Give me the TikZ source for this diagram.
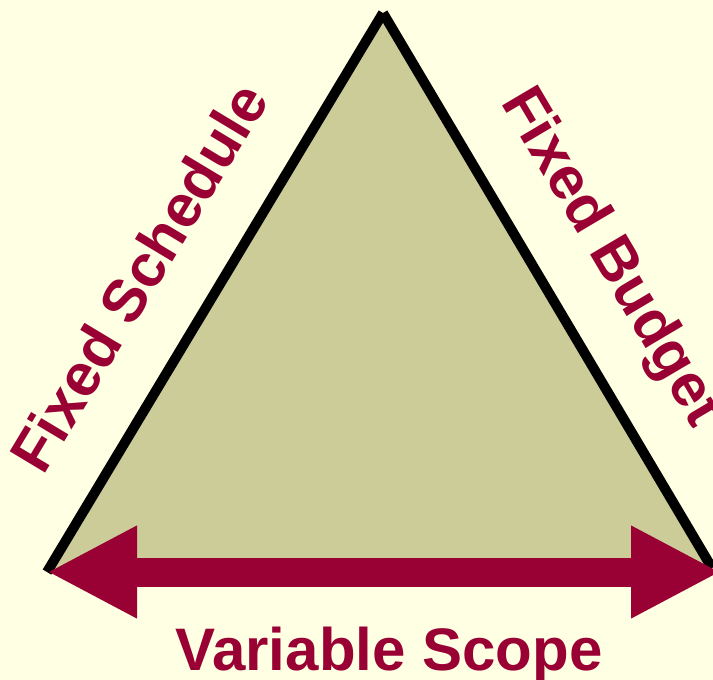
\documentclass[tikz,border=0pt]{standalone}
\usepackage{fontspec}
\setmainfont{Liberation Sans}
\usetikzlibrary{arrows.meta, calc}
\definecolor{paper}{HTML}{FFFFE3}
\definecolor{khaki}{HTML}{CCCC99}
\definecolor{wine}{HTML}{990033}

\begin{document}
\begin{tikzpicture}[x=1pt, y=-1pt,
    side/.style={draw=black, line width=10pt},
    sidetext/.style={text=wine, anchor=base, font=\bfseries\fontsize{60}{72}\selectfont},
    scopetip/.style={Triangle[length=90pt, width=86pt]}]
  \def \gap {52pt} % distance of the side labels from the edge
  \fill[paper] (0,0) rectangle (713,680);
  \useasboundingbox (0,0) rectangle (713,680);

  \coordinate (top) at (383,13);
  \coordinate (left) at (47,572);
  \coordinate (right) at (712,568);
  \coordinate (tip) at (721,572); % right arrow tip runs past the edge

  \fill[khaki] (left) -- (top) -- (right) -- cycle;
  \draw[side] (left) -- (top);
  \draw[side] (top) -- (right);
  \draw[wine, line width=29pt, {Triangle[length=90pt, width=86pt]}-{Triangle[length=90pt, width=86pt]}] (left) -- (tip);

  \node[sidetext, rotate=59] (schedule) at ($(left)!0.46!(top)!\gap!90:(top)$) {Fixed Schedule};
  \node[sidetext, rotate=-59.4] (budget) at ($(top)!0.506!(right)!55pt!90:(right)$) {Fixed Budget};
  \node[sidetext] (scope) at (389,670) {Variable Scope};
\end{tikzpicture}
\end{document}
